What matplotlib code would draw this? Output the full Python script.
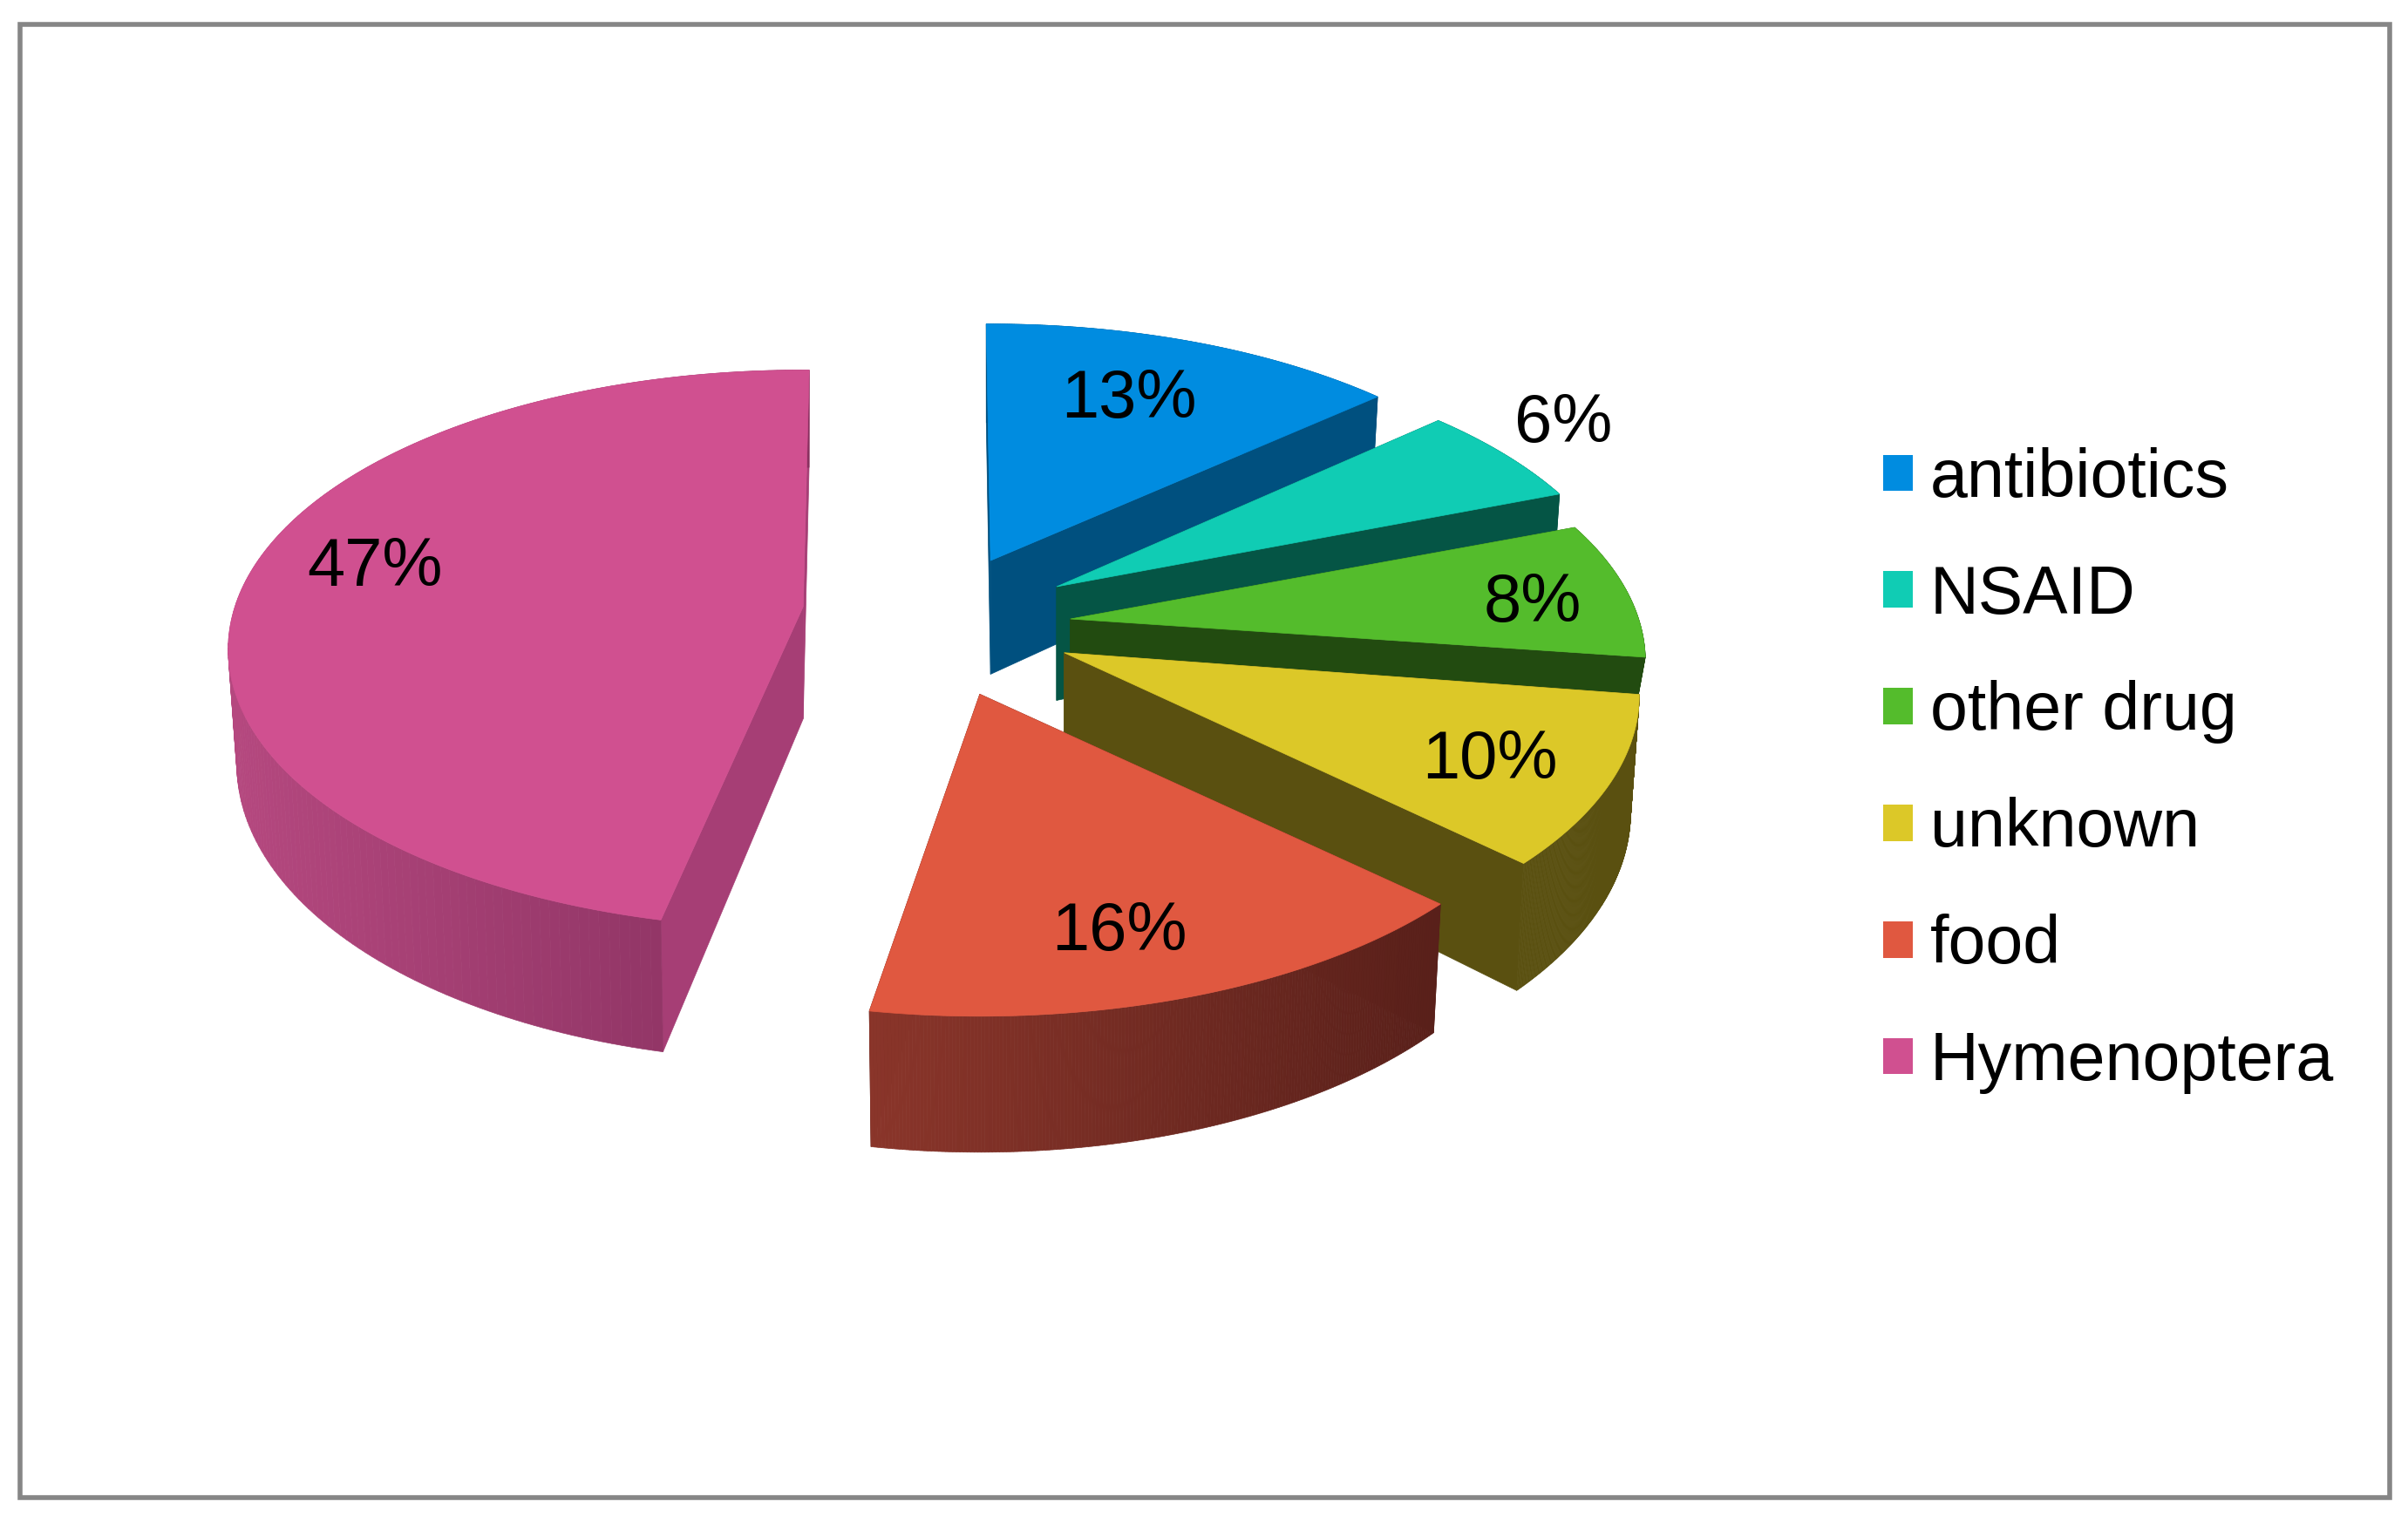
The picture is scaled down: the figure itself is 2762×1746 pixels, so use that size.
import numpy as np
import matplotlib
matplotlib.use("Agg")
import matplotlib.pyplot as plt
from matplotlib.patches import Polygon, Rectangle, Patch
from matplotlib.colors import to_rgb

labels = ["antibiotics", "NSAID", "other drug", "unknown", "food", "Hymenoptera"]
values = [13, 6, 8, 10, 16, 47]
pct_labels = ["13%", "6%", "8%", "10%", "16%", "47%"]

colors = ["#008ce0", "#10ccb4", "#54bc2c", "#dcc828", "#e05840", "#d05090"]
side_colors = ["#00507f", "#055545", "#224b10", "#5a5010", "#59201a", "#a63e75"]
wall_left = ["#00507f", "#055545", "#224b10", "#5a5010", "#8a352a", "#b5487f"]
wall_right = ["#00507f", "#055545", "#224b10", "#5a5010", "#59201a", "#87305f"]

# layout, in the pixels of the shrunk picture
apex = [(645, 365), (688, 382), (697, 403), (693, 425), (638, 452), (523, 395)]
label_xy = [(735, 260), (1018, 276), (998, 393), (970, 495), (729, 607), (244, 370)]
# the excel perspective moves the cut edges a little (degrees)
start_shift = [-0.5, 1.0, 0.9, 1.4, 0.3, 1.5]
end_shift = [1.8, 0.6, 0.7, 0.5, -1.3, 0.7]
# green is nearly all hidden by the yellow slice, keep it from sticking out
depth = [74, 74, 30, 74, 75, 73]
RX, RY, PERSP, TAPER = 370, 177.6, 0.153, 0.985


def project(ang, cx, cy, r=1.0, down=0.0):
    # ang in degrees, clockwise from the top of the pie
    a = np.radians(ang)
    u, v = r * np.sin(a), r * np.cos(a)
    s = 1 / (1 + PERSP * v)
    k = TAPER if down else 1.0
    return cx + RX * u * s * k, cy - RY * v * s + down * s


def mix(c1, c2, t):
    c1, c2 = np.array(to_rgb(c1)), np.array(to_rgb(c2))
    return tuple(c1 + (c2 - c1) * t)


fig = plt.figure(figsize=(27.62, 17.46), dpi=100)
ax = fig.add_axes([0, 0, 1, 1])
ax.set_xlim(0, 1568)
ax.set_ylim(991, 0)
ax.axis("off")
plt.rcParams["font.family"] = ["Liberation Sans", "DejaVu Sans"]

ax.add_patch(Rectangle((13, 16), 1543, 959, fc="white", ec="#868686", lw=4, zorder=0))

total = sum(values)
edges = np.cumsum([0] + values) * 360 / total
z = 1
for i, val in enumerate(values):
    start = edges[i] + start_shift[i]
    end = edges[i + 1] + end_shift[i]
    cx, cy = apex[i]
    d = depth[i]
    angs = np.linspace(start, end, 181)

    # flat walls on both cut edges
    for a in (start, end):
        x1, y1 = project(a, cx, cy)
        x2, y2 = project(a, cx, cy, down=d)
        ax.add_patch(Polygon([(cx, cy), (x1, y1), (x2, y2), (cx, cy + d)],
                             fc=side_colors[i], ec=side_colors[i], lw=0.5, zorder=z))
    z += 1

    # outer wall, cut in strips for the shading
    xt, yt = project(angs, cx, cy)
    xb, yb = project(angs, cx, cy, down=d)
    x_lo, x_hi = xt.min(), xt.max()
    for k in range(len(angs) - 1):
        t = (xt[k] - x_lo) / (x_hi - x_lo)
        col = mix(wall_left[i], wall_right[i], t)
        ax.add_patch(Polygon([(xt[k], yt[k]), (xt[k + 1], yt[k + 1]),
                              (xb[k + 1], yb[k + 1]), (xb[k], yb[k])],
                             fc=col, ec=col, lw=0.5, zorder=z))
    z += 1

    # top of the slice
    ax.add_patch(Polygon([(cx, cy)] + list(zip(xt, yt)), fc=colors[i], ec=colors[i],
                         lw=0.5, zorder=z))
    z += 1

for (x, y), txt in zip(label_xy, pct_labels):
    ax.text(x, y, txt, ha="center", va="center", fontsize=56, color="black", zorder=z)

handles = [Patch(fc=c, ec="none") for c in colors]
ax.legend(handles, labels, loc="upper left", bbox_to_anchor=(1226, 291),
          bbox_transform=ax.transData, frameon=False, fontsize=55.5,
          handlelength=0.45, handleheight=0.45, handletextpad=0.25,
          labelspacing=0.79, borderpad=0, borderaxespad=0)

fig.savefig("out.png", dpi=100)
